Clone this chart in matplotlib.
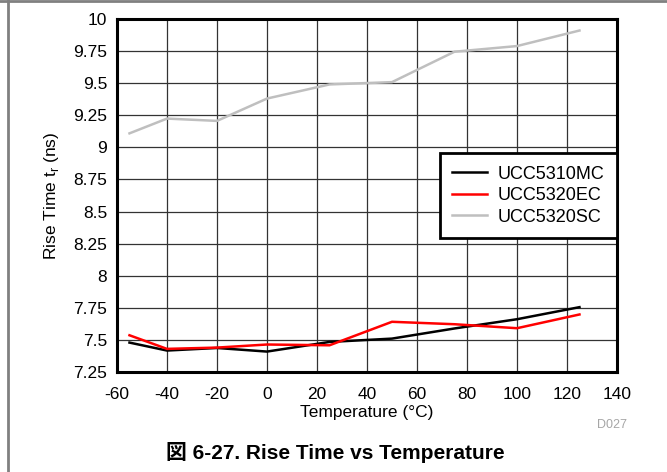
import matplotlib
matplotlib.use("Agg")
import matplotlib.pyplot as plt
from matplotlib.lines import Line2D

plt.rcParams["font.family"] = ["Liberation Sans", "Noto Sans CJK JP", "DejaVu Sans"]

# ---- Data ----
temps = [-55, -40, -20, 0, 25, 50, 75, 100, 125]
ucc5310mc = [7.479, 7.417, 7.437, 7.409, 7.484, 7.510, 7.589, 7.661, 7.755]
ucc5320ec = [7.536, 7.430, 7.440, 7.464, 7.458, 7.641, 7.622, 7.591, 7.698]
ucc5320sc = [9.109, 9.224, 9.206, 9.380, 9.490, 9.508, 9.745, 9.789, 9.910]

x_ticks = [-60, -40, -20, 0, 20, 40, 60, 80, 100, 120, 140]
y_ticks = [7.25, 7.5, 7.75, 8, 8.25, 8.5, 8.75, 9, 9.25, 9.5, 9.75, 10]
y_labels = ["7.25", "7.5", "7.75", "8", "8.25", "8.5", "8.75", "9",
            "9.25", "9.5", "9.75", "10"]

# ---- Plot ----
fig = plt.figure(figsize=(6.67, 4.72), dpi=100)
ax = fig.add_axes([0.1754, 0.2119, 0.7496, 0.7479])

ax.plot(temps, ucc5310mc, color="black", linewidth=1.8, label="UCC5310MC")
ax.plot(temps, ucc5320ec, color="#FF0000", linewidth=1.8, label="UCC5320EC")
ax.plot(temps, ucc5320sc, color="#BFBFBF", linewidth=1.8, label="UCC5320SC")

ax.set_xlim(-60, 140)
ax.set_ylim(7.25, 10)
ax.set_xticks(x_ticks)
ax.set_xticklabels([str(t) for t in x_ticks])
ax.set_yticks(y_ticks)
ax.set_yticklabels(y_labels)
ax.tick_params(length=0, labelsize=12.5)
ax.tick_params(axis="x", pad=11)
ax.tick_params(axis="y", pad=7)
ax.grid(True, color="#333333", linewidth=0.9)
ax.set_axisbelow(True)
for s in ax.spines.values():
    s.set_linewidth(2.2)
    s.set_color("black")

ax.set_xlabel("Temperature (°C)", fontsize=12.5, labelpad=2)
ax.set_ylabel(r"Rise Time t$_\mathregular{r}$ (ns)", fontsize=12.5, labelpad=9)

leg = ax.legend(loc="upper right", bbox_to_anchor=(1.0, 0.62), borderaxespad=0,
                fontsize=13, fancybox=False, framealpha=1, handlelength=1.9,
                handletextpad=0.6, labelspacing=0.25, borderpad=0.7)
leg.get_frame().set_edgecolor("black")
leg.get_frame().set_linewidth(2)

fig.text(0.918, 0.099, "D027", fontsize=9, color="#A6A6A6", ha="center", va="center")
fig.text(0.502, 0.042, "図 6-27. Rise Time vs Temperature", fontsize=15,
         fontweight="bold", ha="center", va="center")

# page frame lines (top and left)
fig.add_artist(Line2D([0, 1], [0.997, 0.997], transform=fig.transFigure,
                      color="#808080", linewidth=2))
fig.add_artist(Line2D([0.0125, 0.0125], [0, 0.997], transform=fig.transFigure,
                      color="#808080", linewidth=2))

fig.savefig("out.png", dpi=100, facecolor="white")
